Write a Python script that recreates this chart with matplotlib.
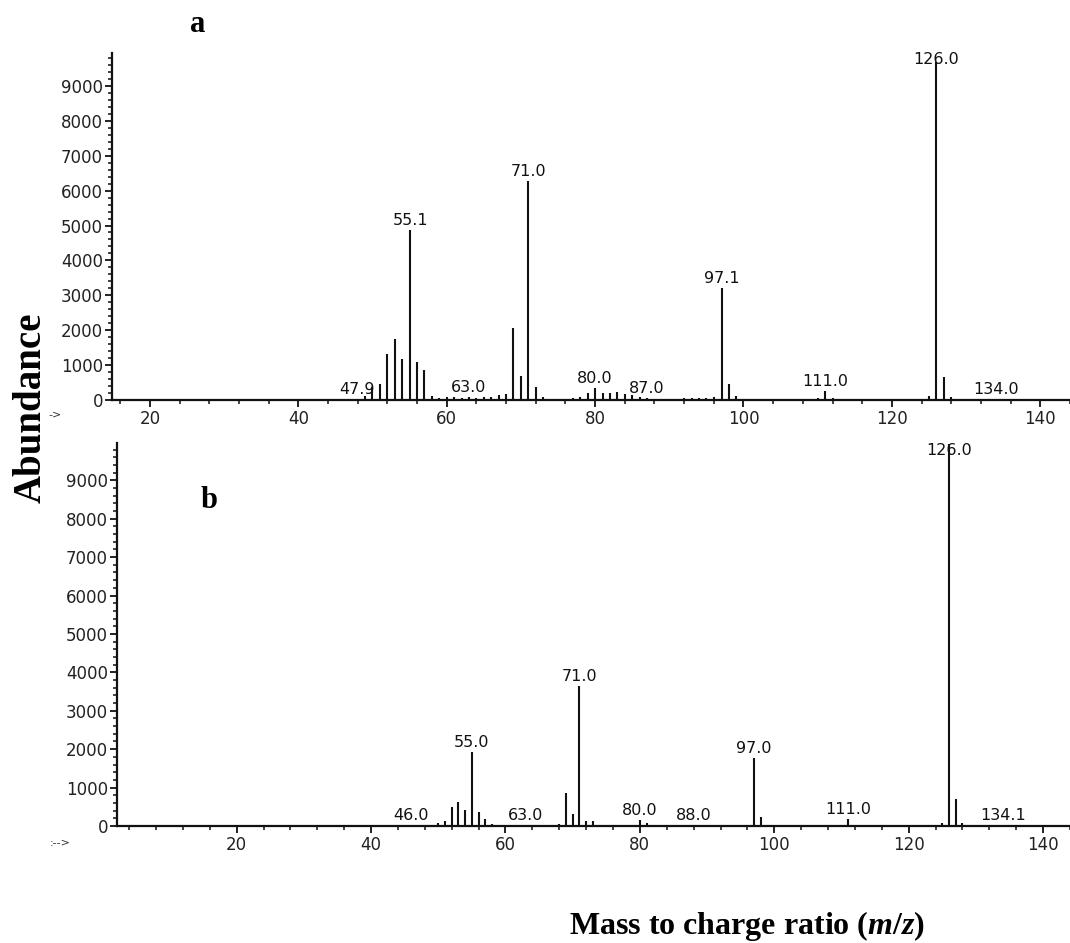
import matplotlib
matplotlib.use("Agg")
import matplotlib.pyplot as plt
from matplotlib.ticker import MultipleLocator

# Spectrum a: m/z positions and abundances
MZ_A = [47.9, 49, 50, 51, 52, 53, 54, 55.1, 56, 57, 58, 59, 60, 61, 62, 63.0,
        64, 65, 66, 67, 68, 69, 70, 71.0, 72, 73, 74, 77, 78, 79, 80.0, 81, 82,
        83, 84, 85, 86, 87.0, 91, 92, 93, 94, 95, 96, 97.1, 98, 99, 101, 102,
        103, 108, 109, 110, 111.0, 112, 113, 125, 126.0, 127, 128, 131, 133,
        134.0, 135, 137]
AB_A = [40, 110, 363, 470, 1318, 1748, 1165, 4871, 1089, 860, 124, 48, 95, 76,
        48, 76, 48, 76, 95, 143, 162, 2054, 688, 6284, 363, 95, 40, 50, 100,
        190, 353, 190, 190, 220, 170, 143, 95, 50, 40, 50, 50, 60, 60, 80,
        3200, 458, 115, 30, 30, 30, 30, 40, 50, 258, 50, 30, 124, 9694, 650,
        96, 20, 30, 30, 25, 20]
LABELS_A = [47.9, 55.1, 63.0, 71.0, 80.0, 87.0, 97.1, 111.0, 126.0, 134.0]

# Spectrum b
MZ_B = [46.0, 50, 51, 52, 53, 54, 55.0, 56, 57, 58, 63.0, 68, 69, 70, 71.0, 72,
        73, 79, 80.0, 81, 83, 88.0, 97.0, 98, 111.0, 125, 126.0, 127, 128, 134.1]
AB_B = [20, 69, 139, 486, 616, 417, 1935, 373, 174, 43, 20, 52, 868, 313, 3646,
        139, 139, 35, 156, 69, 35, 20, 1762, 243, 174, 70, 9950, 694, 70, 20]
LABELS_B = [46.0, 55.0, 63.0, 71.0, 80.0, 88.0, 97.0, 111.0, 126.0, 134.1]

plt.rcParams["mathtext.fontset"] = "custom"
plt.rcParams["mathtext.it"] = "Liberation Serif:italic:bold"
plt.rcParams["mathtext.rm"] = "Liberation Serif:bold"

W, H = 1070, 943


def draw_spectrum(ax, mz, ab, labelled, xlim, ytop):
    ax.vlines(mz, 0, ab, color="#111111", linewidth=1.5)
    heights = dict(zip(mz, ab))
    for m in labelled:
        # the tallest peak's label is pulled down to stay inside the frame
        h = min(heights[m], ytop - 450)
        ax.annotate(f"{m:.1f}", (m, h), xytext=(0, 1.5), textcoords="offset points",
                    ha="center", va="bottom", fontsize=11.5, family="DejaVu Sans",
                    color="#111111", annotation_clip=False)

    ax.set_xlim(*xlim)
    ax.set_ylim(0, ytop)
    for side in ("top", "right"):
        ax.spines[side].set_visible(False)
    for side in ("left", "bottom"):
        ax.spines[side].set_linewidth(1.6)
        ax.spines[side].set_color("#111111")

    ax.xaxis.set_major_locator(MultipleLocator(20))
    ax.xaxis.set_minor_locator(MultipleLocator(4))
    ax.yaxis.set_minor_locator(MultipleLocator(200))
    ax.set_yticks(range(0, 10000, 1000))
    ax.tick_params(which="major", direction="out", length=5, width=1.3,
                   color="#111111", labelcolor="#222222", labelsize=12)
    ax.tick_params(which="minor", direction="out", length=3, width=1.1, color="#111111")
    ax.tick_params(axis="x", pad=2)
    ax.tick_params(axis="y", pad=1.5)
    for lab in ax.get_xticklabels() + ax.get_yticklabels():
        lab.set_family("DejaVu Sans")


fig = plt.figure(figsize=(W / 100, H / 100), dpi=100)

ax_a = fig.add_axes([112 / W, (H - 400) / H, (W - 112) / W, 347 / H])
draw_spectrum(ax_a, MZ_A, AB_A, LABELS_A, (14.9, 144.0), 9943)

ax_b = fig.add_axes([117 / W, (H - 826) / H, (W - 117) / W, 383 / H])
draw_spectrum(ax_b, MZ_B, AB_B, LABELS_B, (2.2, 144.0), 9970)

# Panel letters
fig.text(198 / W, 1 - 24 / H, "a", fontsize=22, fontweight="bold",
         family="Liberation Serif", ha="center", va="center")
fig.text(209 / W, 1 - 500 / H, "b", fontsize=22, fontweight="bold",
         family="Liberation Serif", ha="center", va="center")

# Axis arrows drawn by the instrument software
fig.text(55 / W, 1 - 414 / H, "->", fontsize=8, family="DejaVu Sans",
         ha="center", va="center", color="#333333")
fig.text(60 / W, 1 - 843 / H, ":-->", fontsize=8, family="DejaVu Sans",
         ha="center", va="center", color="#333333")

# Shared axis titles
fig.text(31 / W, 1 - 408 / H, "Abundance", rotation=90, fontsize=28,
         fontweight="bold", family="Liberation Serif", ha="center", va="center")
fig.text(747 / W, 1 - 926 / H, r"Mass to charge ratio ($\mathit{m/z}$)",
         fontsize=23, fontweight="bold", family="Liberation Serif",
         ha="center", va="center")

fig.savefig("out.png", dpi=100)
plt.close(fig)
